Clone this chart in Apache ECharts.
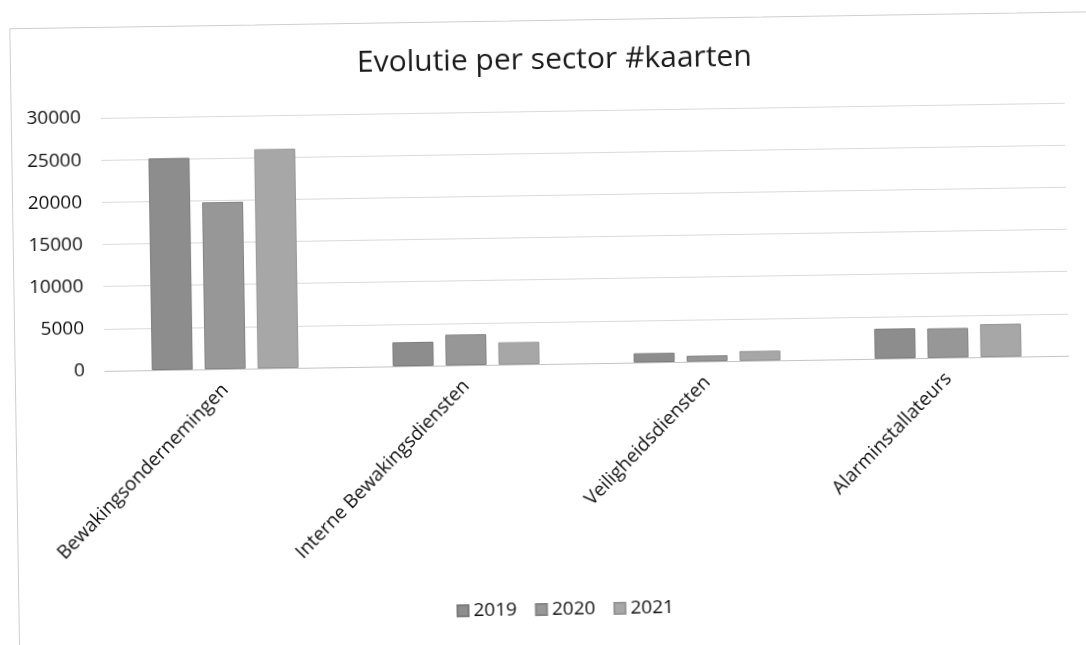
<!DOCTYPE html>
<html>
<head>
<meta charset="utf-8">
<script src="https://cdn.jsdelivr.net/npm/echarts@6/dist/echarts.min.js"></script>
<style>
  html, body { margin: 0; padding: 0; background: #ffffff; overflow: hidden; }
  #wrap { position: absolute; left: 0; top: 0; width: 1086px; height: 645px; transform: rotate(-0.9deg); transform-origin: 543px 322px; }
  #frame { position: absolute; left: 14px; top: 20px; width: 1120px; height: 700px; border: 1px solid #cfcfcf; box-sizing: border-box; }
  #chart { position: absolute; left: 0; top: 0; width: 1086px; height: 645px; }
</style>
</head>
<body>
<div id="wrap">
  <div id="frame"></div>
  <div id="chart"></div>
</div>
<script>
const titleText = 'Evolutie per sector #kaarten';
const categories = ['Bewakingsondernemingen', 'Interne Bewakingsdiensten', 'Veiligheidsdiensten', 'Alarminstallateurs'];
const seriesNames = ['2019', '2020', '2021'];
const values2019 = [25100, 2850, 1100, 3550];
const values2020 = [19800, 3650, 700, 3500];
const values2021 = [26000, 2650, 1150, 3900];
const yTicks = { min: 0, max: 30000, interval: 5000 };

const colors = ['#8d8d8d', '#979797', '#a7a7a7'];
const borders = ['#7c7c7c', '#858585', '#959595'];
const allValues = [values2019, values2020, values2021];
const fontFam = '"Open Sans", "Noto Sans", sans-serif';

const chart = echarts.init(document.getElementById('chart'), null, { renderer: 'canvas' });
chart.setOption({
  backgroundColor: 'transparent',
  animation: false,
  title: {
    text: titleText,
    left: 356,
    top: 40,
    textStyle: { fontFamily: fontFam, fontSize: 30, fontWeight: 'normal', color: '#1a1a1a' }
  },
  legend: {
    data: seriesNames,
    left: 447,
    top: 595,
    icon: 'rect',
    itemWidth: 11,
    itemHeight: 11,
    itemGap: 18,
    textStyle: { fontFamily: fontFam, fontSize: 19, color: '#111111' }
  },
  grid: { left: 104, right: 18, top: 111, bottom: 281, containLabel: false },
  xAxis: {
    type: 'category',
    data: categories,
    axisLine: { lineStyle: { color: '#c4c4c4', width: 1 } },
    axisTick: { show: false },
    axisLabel: { rotate: 45, interval: 0, margin: 18, fontFamily: fontFam, fontSize: 19, color: '#111111' }
  },
  yAxis: {
    type: 'value',
    min: yTicks.min,
    max: yTicks.max,
    interval: yTicks.interval,
    axisLine: { show: false },
    axisTick: { show: false },
    splitLine: { lineStyle: { color: '#dadada', width: 1 } },
    axisLabel: { margin: 20, fontFamily: fontFam, fontSize: 19, color: '#111111', formatter: v => String(v) }
  },
  series: seriesNames.map((name, i) => ({
    name: name,
    type: 'bar',
    data: allValues[i],
    barWidth: 41,
    barGap: '29%',
    itemStyle: { color: colors[i], borderColor: borders[i], borderWidth: 1 }
  }))
});
</script>
</body>
</html>
